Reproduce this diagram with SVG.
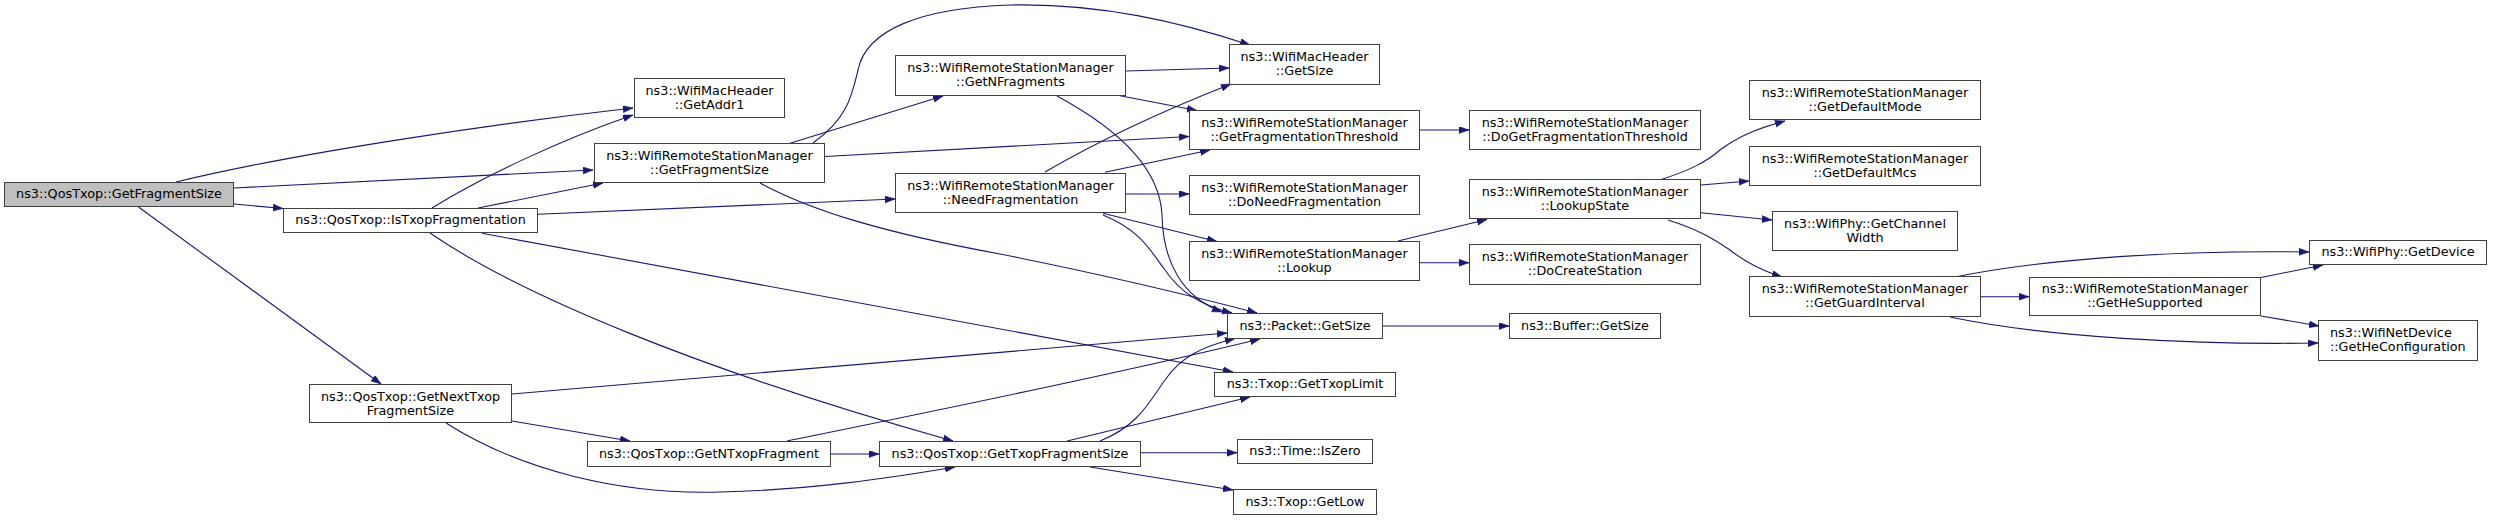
<svg xmlns="http://www.w3.org/2000/svg" width="2493" height="521" viewBox="0 0 2493 521">
<style>
.node rect{fill:#ffffff;stroke:#404040;stroke-width:1}
.root rect{fill:#bfbfbf}
.node text{font-family:"DejaVu Sans","Liberation Sans",sans-serif;font-size:12.8px;fill:#000;text-anchor:middle}
.node text.l{text-anchor:start}
.edges path{fill:none;stroke:#191970;stroke-width:1.1;marker-end:url(#arr)}
</style>
<defs>
<marker id="arr" markerUnits="userSpaceOnUse" markerWidth="11" markerHeight="8" refX="10" refY="3.5" orient="auto">
<path d="M0,0 L10,3.5 L0,7 z" fill="#191970" stroke="#191970" stroke-width="0.5"/>
</marker>
</defs>
<rect x="0" y="0" width="2493" height="521" fill="#ffffff"/>
<g class="edges" id="edges">
<path d="M176,182 C300,152 500,123 633,108"/>
<path d="M234,188 L593,170"/>
<path d="M234,204 L283,208.5"/>
<path d="M138.5,207 L381,384"/>
<path d="M432,208 C480,178 560,140 633,115"/>
<path d="M478,208 L603,183"/>
<path d="M538,214.3 L895,199"/>
<path d="M482,233.3 L1233,372"/>
<path d="M430,233 C520,295 700,370 953,441"/>
<path d="M790,143.3 L943,96"/>
<path d="M813,143 C848,118 852,95 858,70 C866,30 920,8 1010,5 C1100,3 1180,22 1250,45"/>
<path d="M825,156.5 L1189,136.5"/>
<path d="M760,183 C810,210 880,232 1000,254 C1100,274 1200,298 1257,313"/>
<path d="M1126,71 L1229,68"/>
<path d="M1120,95.7 L1197,110.5"/>
<path d="M1057,96 C1120,130 1160,170 1162,215 C1163,262 1182,297 1222,312"/>
<path d="M1045,172 C1100,140 1170,108 1231,84"/>
<path d="M1105,172.3 L1210,150"/>
<path d="M1126,194 L1189,194"/>
<path d="M1103,213.3 L1217,241.5"/>
<path d="M1103,215 C1140,230 1150,250 1165,270 C1180,292 1200,305 1232,313"/>
<path d="M512,394 L1227,333"/>
<path d="M512,421 L630,441"/>
<path d="M446,423 C520,470 620,495 720,492 C810,490 890,478 955,467"/>
<path d="M831,454 L879,454"/>
<path d="M787,441 C900,418 1100,378 1260,339"/>
<path d="M1067,441 L1250,397"/>
<path d="M1100,441 C1140,425 1150,400 1165,380 C1180,358 1200,347 1235,338.5"/>
<path d="M1141,452.7 L1237,452.7"/>
<path d="M1090,467 L1233,490"/>
<path d="M1383,326 L1509,326"/>
<path d="M1420,130 L1469,130"/>
<path d="M1420,262.7 L1469,262.7"/>
<path d="M1398,241 L1487,219.5"/>
<path d="M1660,180 C1690,170 1705,163 1720,150 C1740,135 1760,128 1785,121"/>
<path d="M1701,185 L1749,181"/>
<path d="M1701,212.7 L1772,220"/>
<path d="M1668,220 C1700,230 1715,240 1730,250 C1745,262 1760,270 1782,277"/>
<path d="M1981,296.7 L2029,296.7"/>
<path d="M1955,277 C2050,258 2180,250 2309,252"/>
<path d="M1950,317 C2050,338 2200,345 2318,343"/>
<path d="M2261,277.5 L2323,265"/>
<path d="M2261,316 L2319,326"/>
</g>
<g class="node root" id="n1"><rect x="4.5" y="182.5" width="229" height="24"/><text x="119" y="198">ns3::QosTxop::GetFragmentSize</text></g>
<g class="node" id="n2"><rect x="634.5" y="78.5" width="150" height="39"/><text x="709.5" y="94.5">ns3::WifiMacHeader</text><text x="709.5" y="108.5">::GetAddr1</text></g>
<g class="node" id="n3"><rect x="594.5" y="143.5" width="230" height="39"/><text x="709.5" y="159.5">ns3::WifiRemoteStationManager</text><text x="709.5" y="173.5">::GetFragmentSize</text></g>
<g class="node" id="n4"><rect x="283.5" y="208.5" width="254" height="24"/><text x="410.5" y="224">ns3::QosTxop::IsTxopFragmentation</text></g>
<g class="node" id="n5"><rect x="309.5" y="384.5" width="202" height="38"/><text x="410.5" y="400.5">ns3::QosTxop::GetNextTxop</text><text x="410.5" y="414.5">FragmentSize</text></g>
<g class="node" id="n6"><rect x="895.5" y="55.5" width="230" height="40"/><text x="1010.5" y="71.5">ns3::WifiRemoteStationManager</text><text x="1010.5" y="85.5">::GetNFragments</text></g>
<g class="node" id="n7"><rect x="895.5" y="173.5" width="230" height="39"/><text x="1010.5" y="189.5">ns3::WifiRemoteStationManager</text><text x="1010.5" y="203.5">::NeedFragmentation</text></g>
<g class="node" id="n8"><rect x="587.5" y="441.5" width="243" height="25"/><text x="709" y="457.5">ns3::QosTxop::GetNTxopFragment</text></g>
<g class="node" id="n9"><rect x="879.5" y="441.5" width="261" height="25"/><text x="1010" y="457.5">ns3::QosTxop::GetTxopFragmentSize</text></g>
<g class="node" id="n10"><rect x="1229.5" y="44.5" width="150" height="40"/><text x="1304.5" y="60.5">ns3::WifiMacHeader</text><text x="1304.5" y="74.5">::GetSize</text></g>
<g class="node" id="n11"><rect x="1189.5" y="110.5" width="230" height="39"/><text x="1304.5" y="126.5">ns3::WifiRemoteStationManager</text><text x="1304.5" y="140.5">::GetFragmentationThreshold</text></g>
<g class="node" id="n12"><rect x="1189.5" y="175.5" width="230" height="39"/><text x="1304.5" y="191.5">ns3::WifiRemoteStationManager</text><text x="1304.5" y="205.5">::DoNeedFragmentation</text></g>
<g class="node" id="n13"><rect x="1189.5" y="241.5" width="230" height="39"/><text x="1304.5" y="257.5">ns3::WifiRemoteStationManager</text><text x="1304.5" y="271.5">::Lookup</text></g>
<g class="node" id="n14"><rect x="1227.5" y="313.5" width="155" height="25"/><text x="1305" y="329.5">ns3::Packet::GetSize</text></g>
<g class="node" id="n15"><rect x="1214.5" y="372.5" width="181" height="24"/><text x="1305" y="388">ns3::Txop::GetTxopLimit</text></g>
<g class="node" id="n16"><rect x="1237.5" y="439.5" width="135" height="24"/><text x="1305" y="455">ns3::Time::IsZero</text></g>
<g class="node" id="n17"><rect x="1233.5" y="489.5" width="143" height="25"/><text x="1305" y="505.5">ns3::Txop::GetLow</text></g>
<g class="node" id="n18"><rect x="1469.5" y="110.5" width="231" height="39"/><text x="1585" y="126.5">ns3::WifiRemoteStationManager</text><text x="1585" y="140.5">::DoGetFragmentationThreshold</text></g>
<g class="node" id="n19"><rect x="1469.5" y="179.5" width="231" height="39"/><text x="1585" y="195.5">ns3::WifiRemoteStationManager</text><text x="1585" y="209.5">::LookupState</text></g>
<g class="node" id="n20"><rect x="1469.5" y="244.5" width="231" height="40"/><text x="1585" y="260.5">ns3::WifiRemoteStationManager</text><text x="1585" y="274.5">::DoCreateStation</text></g>
<g class="node" id="n21"><rect x="1509.5" y="313.5" width="151" height="25"/><text x="1585" y="329.5">ns3::Buffer::GetSize</text></g>
<g class="node" id="n22"><rect x="1749.5" y="80.5" width="231" height="39"/><text x="1865" y="96.5">ns3::WifiRemoteStationManager</text><text x="1865" y="110.5">::GetDefaultMode</text></g>
<g class="node" id="n23"><rect x="1749.5" y="146.5" width="231" height="39"/><text x="1865" y="162.5">ns3::WifiRemoteStationManager</text><text x="1865" y="176.5">::GetDefaultMcs</text></g>
<g class="node" id="n24"><rect x="1772.5" y="211.5" width="185" height="39"/><text x="1865" y="227.5">ns3::WifiPhy::GetChannel</text><text x="1865" y="241.5">Width</text></g>
<g class="node" id="n25"><rect x="1749.5" y="276.5" width="231" height="40"/><text x="1865" y="292.5">ns3::WifiRemoteStationManager</text><text x="1865" y="306.5">::GetGuardInterval</text></g>
<g class="node" id="n26"><rect x="2029.5" y="277.5" width="231" height="38"/><text x="2145" y="293">ns3::WifiRemoteStationManager</text><text x="2145" y="307">::GetHeSupported</text></g>
<g class="node" id="n27"><rect x="2309.5" y="240.5" width="177" height="24"/><text x="2398" y="256">ns3::WifiPhy::GetDevice</text></g>
<g class="node" id="n28"><rect x="2318.5" y="320.5" width="159" height="40"/><text class="l" x="2330" y="336.5">ns3::WifiNetDevice</text><text class="l" x="2330" y="350.5">::GetHeConfiguration</text></g>
</svg>
